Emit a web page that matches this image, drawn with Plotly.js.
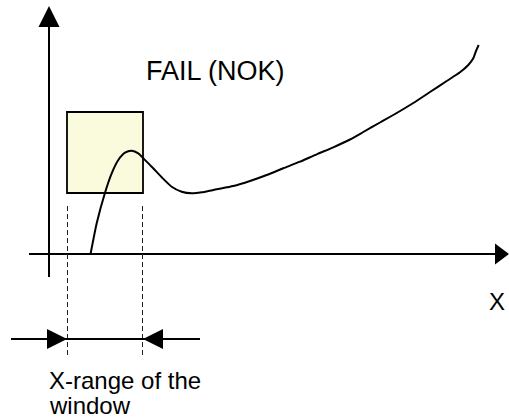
<!DOCTYPE html>
<html>
<head>
<meta charset="utf-8">
<script src="https://cdn.plot.ly/plotly-3.0.1.min.js"></script>
<style>html,body{margin:0;padding:0;background:#fff;}#chart{width:509px;height:418px;}</style>
</head>
<body>
<div id="chart"></div>
<script>
// Curve (signal), in drawing units
const curveX = [90.7, 96.7, 105, 111.7, 118.3, 125, 131.7, 138.3, 143.3, 151.7, 161.7, 171.7, 181.7, 191.7, 201.7, 216.7, 233.3, 250, 266.7, 283.3, 300, 316.7, 333.3, 350, 363.3, 380, 396.7, 413.3, 430, 446.7, 460, 468.3, 473.3, 476, 478.7];
const curveY = [253.3, 223.3, 192.7, 173.3, 160, 152.7, 150.7, 153.3, 158.3, 166.7, 177.3, 186.7, 191.7, 193.3, 192.3, 189.3, 186, 181, 175, 168.3, 161.7, 154.3, 147.3, 139.5, 132, 122.5, 113, 103, 92, 81, 72.3, 65, 58.3, 51, 45];

// Axes of the sketch
const xAxisLine = {x0: 29, x1: 495, y: 254};
const yAxisLine = {x: 49, y0: 277, y1: 27};
const xArrowHead = {tip: 509, base: 495, half: 10.5};
const yArrowHead = {tip: 6, base: 27, half: 10.5};

// Evaluation window
const windowX = [67, 143];
const windowY = [112, 193];
const dashX = [67.5, 142.5];
const dashTop = 206, dashBottom = 355;
const rangeLineY = 339, rangeLineX = [11, 200];
const rangeArrowLen = 20, rangeArrowHalf = 10;

// Texts
const labels = [
  {text: "FAIL (NOK)", x: 145, y: 70.5, size: 27, anchor: "left"},
  {text: "X", x: 496.5, y: 301.5, size: 24, anchor: "center"},
  {text: "X-range of the", x: 48, y: 380, size: 24, anchor: "left"},
  {text: "window", x: 48, y: 405, size: 24, anchor: "left"}
];

const black = "#000000";
const shapes = [];
// x axis
shapes.push({type: "line", xref: "x", yref: "y", x0: xAxisLine.x0, x1: xAxisLine.x1, y0: xAxisLine.y, y1: xAxisLine.y, line: {color: black, width: 2}});
shapes.push({type: "path", xref: "x", yref: "y",
  path: `M${xArrowHead.tip},${xAxisLine.y} L${xArrowHead.base},${xAxisLine.y - xArrowHead.half} L${xArrowHead.base},${xAxisLine.y + xArrowHead.half} Z`,
  fillcolor: black, line: {color: black, width: 0}});
// y axis
shapes.push({type: "line", xref: "x", yref: "y", x0: yAxisLine.x, x1: yAxisLine.x, y0: yAxisLine.y0, y1: yAxisLine.y1, line: {color: black, width: 2}});
shapes.push({type: "path", xref: "x", yref: "y",
  path: `M${yAxisLine.x},${yArrowHead.tip} L${yAxisLine.x - yArrowHead.half},${yArrowHead.base} L${yAxisLine.x + yArrowHead.half},${yArrowHead.base} Z`,
  fillcolor: black, line: {color: black, width: 0}});
// window box
shapes.push({type: "rect", xref: "x", yref: "y", x0: windowX[0], x1: windowX[1], y0: windowY[0], y1: windowY[1],
  fillcolor: "#fafadc", line: {color: black, width: 1.8}, layer: "below"});
// dashed guides
dashX.forEach(function (xv) {
  shapes.push({type: "line", xref: "x", yref: "y", x0: xv, x1: xv, y0: dashTop, y1: dashBottom,
    line: {color: "#222222", width: 1, dash: "5px,3px"}});
});
// range line with arrows
shapes.push({type: "line", xref: "x", yref: "y", x0: rangeLineX[0], x1: rangeLineX[1], y0: rangeLineY, y1: rangeLineY, line: {color: black, width: 2}});
shapes.push({type: "path", xref: "x", yref: "y",
  path: `M${windowX[0]},${rangeLineY} L${windowX[0] - rangeArrowLen},${rangeLineY - rangeArrowHalf} L${windowX[0] - rangeArrowLen},${rangeLineY + rangeArrowHalf} Z`,
  fillcolor: black, line: {color: black, width: 0}});
shapes.push({type: "path", xref: "x", yref: "y",
  path: `M${windowX[1]},${rangeLineY} L${windowX[1] + rangeArrowLen},${rangeLineY - rangeArrowHalf} L${windowX[1] + rangeArrowLen},${rangeLineY + rangeArrowHalf} Z`,
  fillcolor: black, line: {color: black, width: 0}});

const annotations = labels.map(function (l) {
  return {text: l.text, x: l.x, y: l.y, xref: "x", yref: "y", showarrow: false,
    xanchor: l.anchor, yanchor: "middle", borderpad: 0,
    font: {family: "Liberation Sans, Arial, sans-serif", size: l.size, color: black}};
});

const trace = {x: curveX, y: curveY, type: "scatter", mode: "lines",
  line: {color: black, width: 2, shape: "spline", smoothing: 0.6}, hoverinfo: "skip", cliponaxis: false};

const layout = {
  width: 509, height: 418,
  margin: {l: 0, r: 0, t: 0, b: 0, pad: 0},
  paper_bgcolor: "#ffffff", plot_bgcolor: "#ffffff",
  showlegend: false,
  xaxis: {range: [0, 509], visible: false, fixedrange: true},
  yaxis: {range: [418, 0], visible: false, fixedrange: true},
  shapes: shapes,
  annotations: annotations
};

Plotly.newPlot("chart", [trace], layout, {staticPlot: true, displayModeBar: false});
</script>
</body>
</html>
